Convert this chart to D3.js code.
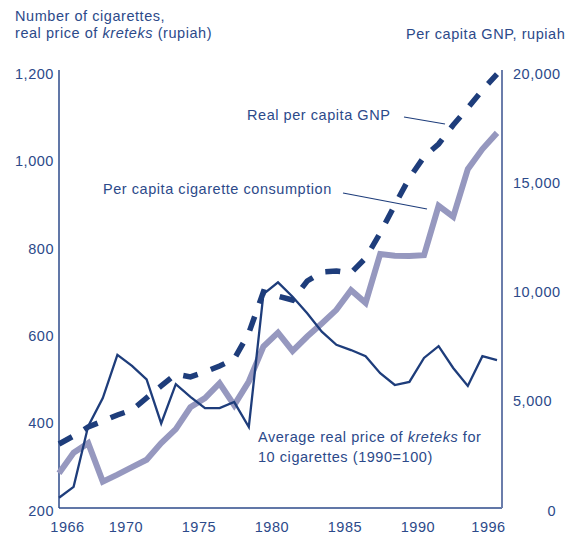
<!DOCTYPE html>
<html>
<head>
<meta charset="utf-8">
<script src="https://cdn.jsdelivr.net/npm/d3@7"></script>
<style>
  body { margin: 0; background: #fff; }
  svg text { font-family: "Liberation Sans", Arial, sans-serif; font-size: 14.5px; letter-spacing: 0.55px; fill: #2c4a8a; }
</style>
</head>
<body>
<svg id="chart" width="579" height="536"></svg>
<script>
// years 1966..1996
var years = d3.range(1966, 1997);

// average real price of kreteks for 10 cigarettes (left axis)
var price = [228, 253, 392, 456, 555, 530, 499, 398, 488, 459, 433, 433, 447, 390, 694,
             721, 688, 650, 608, 578, 566, 552, 513, 486, 493, 548, 575, 525, 484, 552, 543];

// per capita cigarette consumption (left axis)
var consumption = [284, 331, 353, 265, 281, 298, 315, 353, 385, 435, 456, 490, 440, 494, 574,
                   606, 564, 597, 627, 658, 703, 674, 786, 782, 781, 783, 896, 871, 980, 1026, 1063];

// real per capita GNP, rupiah (right axis)
var gnp = [3020, 3390, 3800, 4070, 4350, 4580, 5130, 5680, 6220, 6090, 6320, 6590, 6910, 8100, 9980,
           9790, 9610, 10480, 10890, 10940, 10850, 11530, 12680, 13960, 15200, 16160, 16750, 17620, 18400, 19220, 19950];

var leftTicks = [200, 400, 600, 800, 1000, 1200];
var rightTicks = [0, 5000, 10000, 15000, 20000];
var yearTicks = [1966, 1970, 1975, 1980, 1985, 1990, 1996];

var svg = d3.select("#chart");

var x = d3.scaleLinear().domain([1966, 1996]).range([59, 497]);
var yL = d3.scaleLinear().domain([200, 1200]).range([510, 73]);
var yR = d3.scaleLinear().domain([0, 20000]).range([510, 73]);

var navy = "#1e3d7b";
var grey = "#9698bf";

// axis titles
svg.append("text").attr("x", 15).attr("y", 21).text("Number of cigarettes,");
var t2 = svg.append("text").attr("x", 15).attr("y", 38);
t2.append("tspan").text("real price of ");
t2.append("tspan").attr("font-style", "italic").text("kreteks");
t2.append("tspan").text(" (rupiah)");
svg.append("text").attr("x", 406).attr("y", 39).text("Per capita GNP, rupiah");

// axes (labels only, lines drawn separately)
var gl = svg.append("g").attr("transform", "translate(54,0)")
    .call(d3.axisLeft(yL).tickValues(leftTicks).tickSize(0).tickPadding(0).tickFormat(d3.format(",")));
var gr = svg.append("g").attr("transform", "translate(513,0)")
    .call(d3.axisRight(yR).tickValues(rightTicks).tickSize(0).tickPadding(0).tickFormat(d3.format(",")));
var gb = svg.append("g").attr("transform", "translate(0,520)")
    .call(d3.axisBottom(x).tickValues(yearTicks).tickSize(0).tickPadding(0).tickFormat(d3.format("d")));

[gl, gr, gb].forEach(function (g) {
    g.select(".domain").remove();
    g.selectAll("text").attr("font-family", null).attr("font-size", null).style("fill", "#2c4a8a");
});
gl.selectAll("text").attr("dy", "0.36em");
gr.selectAll("text").attr("dy", "0.36em")
    .filter(function (d) { return d === 0; })
    .attr("text-anchor", "end").attr("x", 43);
gb.selectAll("text").attr("dy", "0.8em")
    .attr("dx", function (d) { return d === 1996 ? -9 : 8; });

// axis lines
svg.append("line").attr("x1", 59).attr("x2", 59).attr("y1", 70).attr("y2", 508)
    .attr("stroke", "#2c4a8a").attr("stroke-width", 1.5);
svg.append("line").attr("x1", 59).attr("x2", 502).attr("y1", 508).attr("y2", 508)
    .attr("stroke", "#2c4a8a").attr("stroke-width", 1.5);
svg.append("line").attr("x1", 502).attr("x2", 502).attr("y1", 70).attr("y2", 508)
    .attr("stroke", "#6b7dab").attr("stroke-width", 2);

// leader lines
svg.append("line").attr("x1", 404).attr("y1", 117).attr("x2", 445).attr("y2", 124)
    .attr("stroke", navy).attr("stroke-width", 1.2);
svg.append("line").attr("x1", 343).attr("y1", 193).attr("x2", 427).attr("y2", 209)
    .attr("stroke", navy).attr("stroke-width", 1.2);

var lineL = d3.line().x(function (d, i) { return x(years[i]); }).y(function (d) { return yL(d); });
var lineR = d3.line().x(function (d, i) { return x(years[i]); }).y(function (d) { return yR(d); });

svg.append("path").datum(consumption).attr("d", lineL)
    .attr("fill", "none").attr("stroke", grey).attr("stroke-width", 6);

svg.append("path").datum(price).attr("d", lineL)
    .attr("fill", "none").attr("stroke", navy).attr("stroke-width", 2.3);

svg.append("path").datum(gnp).attr("d", lineR)
    .attr("fill", "none").attr("stroke", navy).attr("stroke-width", 5.5)
    .attr("stroke-dasharray", "15,14");

// annotations
svg.append("text").attr("x", 247).attr("y", 120).text("Real per capita GNP");
svg.append("text").attr("x", 103).attr("y", 194).text("Per capita cigarette consumption");
var a1 = svg.append("text").attr("x", 258).attr("y", 442);
a1.append("tspan").text("Average real price of ");
a1.append("tspan").attr("font-style", "italic").text("kreteks");
a1.append("tspan").text(" for");
svg.append("text").attr("x", 258).attr("y", 462).text("10 cigarettes (1990=100)");
</script>
</body>
</html>
